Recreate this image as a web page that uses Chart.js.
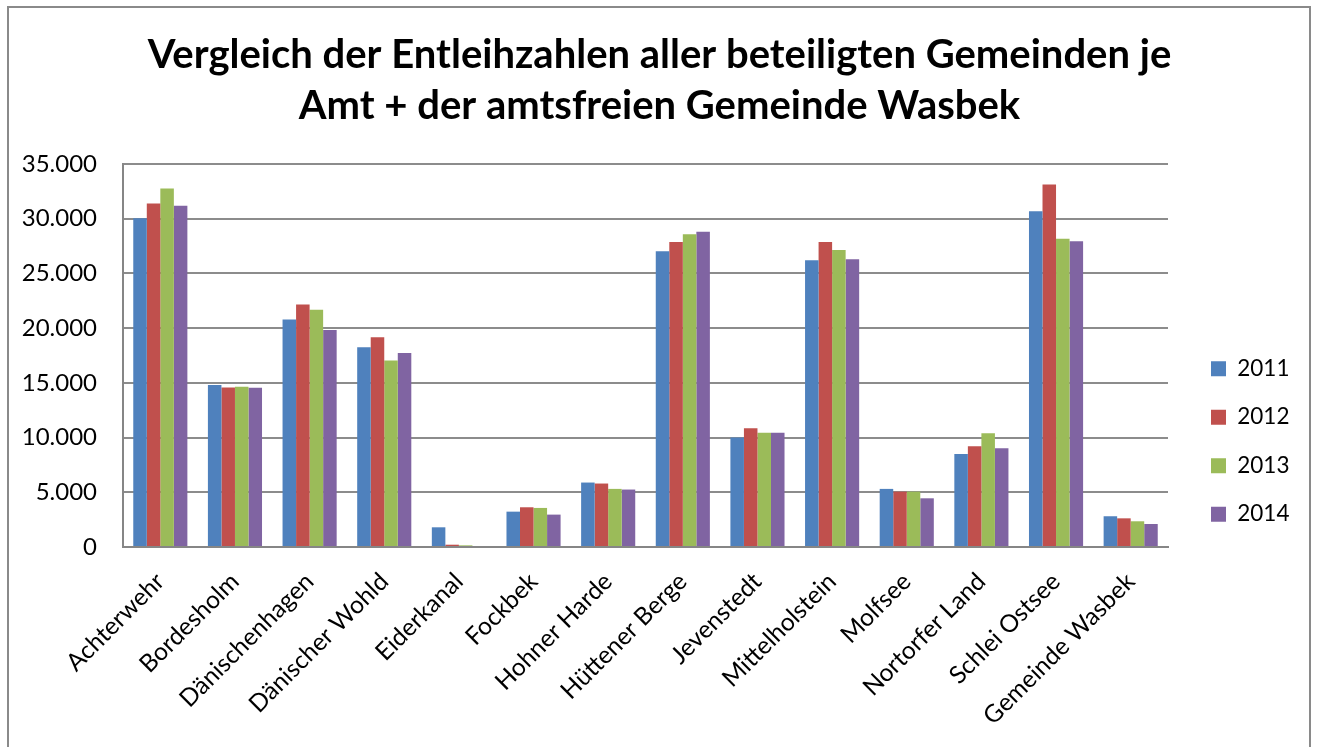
<!DOCTYPE html>
<html>
<head>
<meta charset="utf-8">
<script src="https://cdn.jsdelivr.net/npm/chart.js@4"></script>
<style>
  html, body { margin:0; padding:0; background:#fff; }
  #wrap { position:relative; width:1319px; height:747px; overflow:hidden; }
  #frame { position:absolute; left:7px; top:6px; width:1304px; height:800px; border:2px solid #8a8a8a; box-sizing:border-box; }
  #c { position:absolute; left:0; top:0; }
</style>
</head>
<body>
<div id="wrap">
  <div id="frame"></div>
  <canvas id="c" width="1319" height="747"></canvas>
</div>
<script>
const TITLE = ['Vergleich der Entleihzahlen aller beteiligten Gemeinden je', 'Amt + der amtsfreien Gemeinde Wasbek'];

const gemeinden = ['Achterwehr','Bordesholm','Dänischenhagen','Dänischer Wohld','Eiderkanal','Fockbek',
  'Hohner Harde','Hüttener Berge','Jevenstedt','Mittelholstein','Molfsee','Nortorfer Land','Schlei Ostsee','Gemeinde Wasbek'];

const jahre = ['2011','2012','2013','2014'];
const farben = ['#4F81BD','#C0504D','#9BBB59','#8064A2'];

const werte2011 = [30050, 14800, 20800, 18250, 1800, 3230, 5890, 27030, 10000, 26200, 5310, 8510, 30690, 2810];
const werte2012 = [31390, 14580, 22150, 19160,  210, 3630, 5800, 27880, 10860, 27880, 5060, 9210, 33130, 2620];
const werte2013 = [32760, 14640, 21690, 17050,  150, 3570, 5310, 28590, 10430, 27150, 5060, 10400, 28160, 2350];
const werte2014 = [31180, 14550, 19830, 17720,    0, 2960, 5250, 28800, 10430, 26300, 4450, 9030, 27940, 2100];

const yTicks = [0, 5000, 10000, 15000, 20000, 25000, 30000, 35000];

const FONT = 'Lato, "Open Sans", sans-serif';
const LEGEND_SIZE = 22.5;
const LEGEND_PAD = 26;
const LEGEND_BOX = 15;
const LUECKE = 17; // Abstand Plotfläche -> Legende

function tausender(v){ return String(v).replace(/\B(?=(\d{3})+(?!\d))/g, '.'); }

// Breite der Legende vorab messen, damit die Plotfläche bei x=1168 endet
const canvas = document.getElementById('c');
const mctx = canvas.getContext('2d');
mctx.font = `${LEGEND_SIZE}px ${FONT}`;
const textW = Math.max(...jahre.map(j => mctx.measureText(j).width));
const legendW = LEGEND_PAD + LEGEND_BOX + LEGEND_SIZE / 2 + textW + 10;
const rechtsRest = Math.max(0, 1319 - 1168 - LUECKE - legendW);

const serien = [werte2011, werte2012, werte2013, werte2014];

const leer = (w, weight) => ({
  position: 'right',
  display: true,
  weight,
  grid: { display: false, drawTicks: false },
  border: { display: false },
  ticks: { display: false },
  afterFit: (s) => { s.width = w; },
});

new Chart(canvas, {
  type: 'bar',
  data: {
    labels: gemeinden,
    datasets: serien.map((d, i) => ({
      label: jahre[i],
      data: d,
      backgroundColor: farben[i],
      borderWidth: 0,
      categoryPercentage: 0.725,
      barPercentage: 1.0,
    })),
  },
  options: {
    responsive: false,
    animation: false,
    devicePixelRatio: 1,
    layout: { padding: 0 },
    plugins: {
      title: {
        display: true,
        text: TITLE,
        color: '#000',
        font: { family: FONT, size: 40, weight: 'bold', lineHeight: 51/40 },
        padding: { top: 30, bottom: 32 },
      },
      legend: {
        position: 'right',
        align: 'start',
        fullSize: true,
        title: { display: true, text: '', padding: { top: 317, bottom: 0 } },
        labels: {
          color: '#000',
          font: { family: FONT, size: LEGEND_SIZE },
          boxWidth: LEGEND_BOX,
          boxHeight: LEGEND_BOX,
          padding: LEGEND_PAD,
        },
      },
      tooltip: { enabled: false },
    },
    scales: {
      x: {
        grid: { display: false, drawTicks: false },
        border: { color: '#868686', width: 2 },
        ticks: {
          color: '#000',
          font: { family: FONT, size: 24.5 },
          autoSkip: false,
          maxRotation: 45,
          minRotation: 45,
          padding: 20,
        },
        afterFit: (s) => { s.height = 200; },
      },
      y: {
        min: 0,
        max: 35000,
        afterBuildTicks: (s) => { s.ticks = yTicks.map(v => ({ value: v })); },
        grid: { color: '#8c8c8c', lineWidth: 2, drawTicks: false },
        border: { color: '#868686', width: 2 },
        ticks: {
          color: '#000',
          font: { family: FONT, size: 24 },
          padding: 26,
          callback: (v) => tausender(v),
        },
        afterFit: (s) => { s.width = 123; },
      },
      abstand: leer(LUECKE, 0),
      rand: leer(rechtsRest, 2000),
    },
  },
});
</script>
</body>
</html>
